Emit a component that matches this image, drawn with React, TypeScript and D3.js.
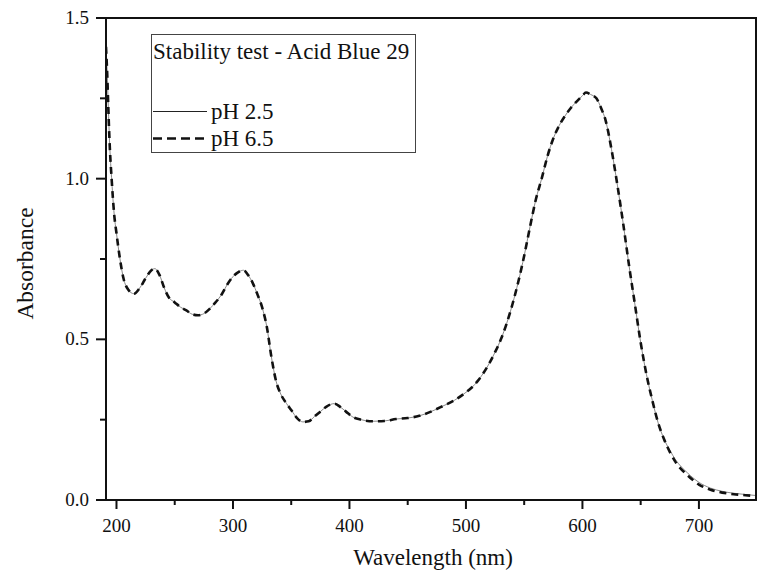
import React from "react";
import * as d3 from "d3";

const wavelengths = [191, 192, 193, 194, 196, 198, 200, 203, 206, 210, 215, 220, 225, 230, 233, 237, 241, 245, 250, 255, 260, 265, 270, 275, 280, 285, 290, 295, 300, 305, 309, 313, 317, 321, 325, 329, 333, 337, 341, 346, 350, 355, 360, 365, 370, 375, 380, 387, 392, 397, 403, 410, 420, 430, 440, 450, 460, 470, 480, 490, 500, 505, 510, 515, 520, 525, 530, 535, 540, 545, 550, 555, 560, 565, 570, 575, 580, 585, 590, 595, 600, 603, 607, 612, 616, 620, 625, 630, 635, 640, 645, 650, 655, 660, 665, 670, 675, 680, 690, 700, 710, 720, 730, 740, 749];

const absPH25 = [1.41, 1.33, 1.22, 1.12, 0.99, 0.89, 0.83, 0.75, 0.69, 0.655, 0.642, 0.66, 0.69, 0.715, 0.72, 0.7, 0.66, 0.63, 0.615, 0.6, 0.59, 0.578, 0.575, 0.58, 0.595, 0.615, 0.638, 0.67, 0.695, 0.71, 0.715, 0.7, 0.675, 0.64, 0.6, 0.54, 0.445, 0.37, 0.33, 0.3, 0.28, 0.255, 0.243, 0.245, 0.26, 0.275, 0.29, 0.3, 0.29, 0.275, 0.258, 0.25, 0.245, 0.246, 0.252, 0.255, 0.262, 0.275, 0.292, 0.31, 0.335, 0.35, 0.37, 0.395, 0.425, 0.46, 0.5, 0.55, 0.61, 0.68, 0.76, 0.85, 0.935, 1.0, 1.07, 1.125, 1.165, 1.195, 1.22, 1.24, 1.258, 1.268, 1.262, 1.25, 1.22, 1.18, 1.09, 0.98, 0.86, 0.73, 0.61, 0.49, 0.39, 0.31, 0.24, 0.19, 0.155, 0.125, 0.085, 0.055, 0.037, 0.027, 0.021, 0.017, 0.014];

const absPH65 = [1.41, 1.33, 1.22, 1.12, 0.99, 0.89, 0.83, 0.75, 0.69, 0.655, 0.642, 0.66, 0.69, 0.715, 0.72, 0.7, 0.66, 0.63, 0.615, 0.6, 0.59, 0.578, 0.575, 0.58, 0.595, 0.615, 0.638, 0.67, 0.695, 0.71, 0.715, 0.7, 0.675, 0.64, 0.6, 0.54, 0.445, 0.37, 0.33, 0.3, 0.28, 0.255, 0.243, 0.245, 0.26, 0.275, 0.29, 0.3, 0.29, 0.275, 0.258, 0.25, 0.245, 0.246, 0.252, 0.255, 0.262, 0.275, 0.292, 0.31, 0.335, 0.35, 0.37, 0.395, 0.425, 0.46, 0.5, 0.55, 0.61, 0.68, 0.76, 0.85, 0.935, 1.0, 1.07, 1.125, 1.165, 1.195, 1.22, 1.24, 1.258, 1.268, 1.262, 1.25, 1.22, 1.18, 1.09, 0.98, 0.86, 0.73, 0.61, 0.49, 0.39, 0.31, 0.24, 0.19, 0.15, 0.118, 0.078, 0.048, 0.032, 0.023, 0.018, 0.015, 0.012];

const xMajorTicks = [200, 300, 400, 500, 600, 700];
const xMinorTicks = [250, 350, 450, 550, 650];
const yMajorTicks = [0, 0.5, 1.0, 1.5];
const yMinorTicks = [0.25, 0.75, 1.25];

const seriesNames = ["pH 2.5", "pH 6.5"];
const legendTitle = "Stability test - Acid Blue 29";
const xTitle = "Wavelength (nm)";
const yTitle = "Absorbance";

const W = 759;
const H = 577;
const L = 106, R = 756, T = 18, B = 500;
const FONT = "'Liberation Serif', 'Times New Roman', Times, serif";

function Txt({ x, y, size, anchor = "start", children, transform }: any) {
  return (
    <text
      x={x}
      y={y}
      transform={transform}
      fontFamily={FONT}
      fontSize={size}
      textAnchor={anchor}
      fill="#111"
    >
      {children}
    </text>
  );
}

export default function App() {
  const x = d3.scaleLinear().domain([191, 749]).range([L, R]);
  const y = d3.scaleLinear().domain([0, 1.5]).range([B, T]);
  const line = d3
    .line<number>()
    .x((_, i) => x(wavelengths[i]))
    .y((v) => y(v))
    .curve(d3.curveMonotoneX);

  const solidPath = line(absPH25) || "";
  const dashedPath = line(absPH65) || "";

  return (
    <svg
      width={W}
      height={H}
      style={{ position: "absolute", left: 0, top: 0, background: "#fff" }}
    >
      <rect x={0} y={0} width={W} height={H} fill="#fff" />
      <defs>
        <clipPath id="plotClip">
          <rect x={L} y={T} width={R - L} height={B - T} />
        </clipPath>
      </defs>

      <g clipPath="url(#plotClip)">
        <path d={solidPath} fill="none" stroke="#888" strokeWidth={1} />
        <path
          d={dashedPath}
          fill="none"
          stroke="#111"
          strokeWidth={2.6}
          strokeDasharray="7,5"
        />
      </g>

      {/* frame */}
      <rect x={L} y={T} width={R - L} height={B - T} fill="none" stroke="#111" strokeWidth={2} />

      {/* x ticks */}
      {xMajorTicks.map((t) => (
        <g key={"xm" + t}>
          <line x1={x(t)} x2={x(t)} y1={B} y2={B + 9} stroke="#111" strokeWidth={2} />
          <Txt x={x(t)} y={532} size={19} anchor="middle">
            {String(t)}
          </Txt>
        </g>
      ))}
      {xMinorTicks.map((t) => (
        <line key={"xn" + t} x1={x(t)} x2={x(t)} y1={B} y2={B + 5} stroke="#111" strokeWidth={2} />
      ))}

      {/* y ticks */}
      {yMajorTicks.map((t) => (
        <g key={"ym" + t}>
          <line x1={L - 10} x2={L} y1={y(t)} y2={y(t)} stroke="#111" strokeWidth={2} />
          <Txt x={89} y={y(t) + 6} size={19} anchor="end">
            {t.toFixed(1)}
          </Txt>
        </g>
      ))}
      {yMinorTicks.map((t) => (
        <line key={"yn" + t} x1={L - 6} x2={L} y1={y(t)} y2={y(t)} stroke="#111" strokeWidth={2} />
      ))}

      {/* axis titles */}
      <Txt x={(L + R) / 2 + 2} y={565} size={23} anchor="middle">
        {xTitle}
      </Txt>
      <Txt
        x={0}
        y={0}
        transform={`translate(33,263.5) rotate(-90)`}
        size={23.5}
        anchor="middle"
      >
        {yTitle}
      </Txt>

      {/* legend */}
      <rect x={151.5} y={34.5} width={264} height={118} fill="#fff" stroke="#444" strokeWidth={1} />
      <Txt x={153} y={59} size={23}>
        {legendTitle}
      </Txt>
      <line x1={153} x2={207} y1={111.5} y2={111.5} stroke="#222" strokeWidth={1} />
      <Txt x={211} y={119} size={23}>
        {seriesNames[0]}
      </Txt>
      <line
        x1={153}
        x2={207}
        y1={138.5}
        y2={138.5}
        stroke="#111"
        strokeWidth={2.6}
        strokeDasharray="9,5"
      />
      <Txt x={211} y={145.5} size={23}>
        {seriesNames[1]}
      </Txt>
    </svg>
  );
}
